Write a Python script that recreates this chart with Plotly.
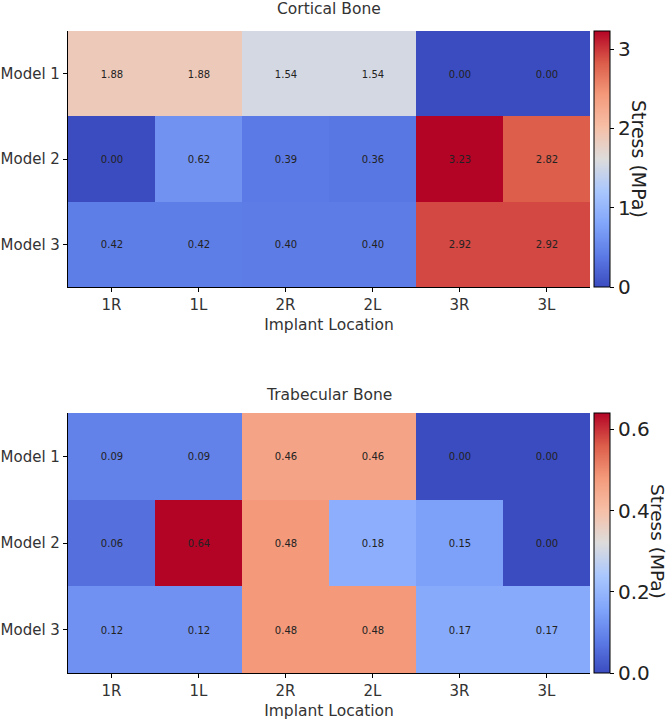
import plotly.graph_objects as go

locations = ["1R", "1L", "2R", "2L", "3R", "3L"]
models = ["Model 1", "Model 2", "Model 3"]
cortical = [
    [1.88, 1.88, 1.54, 1.54, 0.00, 0.00],
    [0.00, 0.62, 0.39, 0.36, 3.23, 2.82],
    [0.42, 0.42, 0.40, 0.40, 2.92, 2.92],
]
trabecular = [
    [0.09, 0.09, 0.46, 0.46, 0.00, 0.00],
    [0.06, 0.64, 0.48, 0.18, 0.15, 0.00],
    [0.12, 0.12, 0.48, 0.48, 0.17, 0.17],
]

coolwarm = [
    [0.0, "#3b4cc0"], [0.125, "#5d7ce6"], [0.25, "#82a6fb"], [0.375, "#aac7fd"],
    [0.5, "#dddcdc"], [0.625, "#f6bfa6"], [0.75, "#f49a7b"], [0.875, "#dc5d4a"],
    [1.0, "#b40426"],
]

FONT = "DejaVu Sans"
W, H = 669, 720
ml, mr, mt, mb = 68, 79, 31, 47
pw = W - ml - mr
ph = H - mt - mb
top_dom = [(H - mb - 287) / ph, 1.0]
bot_dom = [0.0, (H - mb - 413) / ph]

fig = go.Figure()

def px_x(p):
    return (p - ml) / pw

def px_y(p):
    return (H - mb - p) / ph

def cb(y0, y1, tickvals, ticktext):
    return dict(
        x=px_x(594), xanchor="left", y=y0, yanchor="bottom", len=y1 - y0, lenmode="fraction",
        xpad=0, ypad=0,
        thickness=16, outlinecolor="black", outlinewidth=1,
        ticks="outside", ticklen=4, tickcolor="black",
        tickvals=tickvals, ticktext=ticktext,
        tickfont=dict(family=FONT, size=20, color="#222"),
    )

fig.add_trace(go.Heatmap(
    z=cortical, x=locations, y=models, colorscale=coolwarm, zmin=0, zmax=max(max(r) for r in cortical),
    texttemplate="%{z:.2f}", textfont=dict(family=FONT, size=10, color="#222"),
    xaxis="x", yaxis="y",
    colorbar=cb(top_dom[0], top_dom[1], [0, 1, 2, 3], ["0", "1", "2", "3"]),
    hoverinfo="skip",
))
fig.add_trace(go.Heatmap(
    z=trabecular, x=locations, y=models, colorscale=coolwarm, zmin=0, zmax=max(max(r) for r in trabecular),
    texttemplate="%{z:.2f}", textfont=dict(family=FONT, size=10, color="#222"),
    xaxis="x2", yaxis="y2",
    colorbar=cb(bot_dom[0], bot_dom[1], [0, 0.2, 0.4, 0.6], ["0.0", "0.2", "0.4", "0.6"]),
    hoverinfo="skip",
))

axcommon = dict(showline=True, linecolor="black", linewidth=1.2, ticks="outside", ticklen=4,
                tickcolor="black", showgrid=False, zeroline=False,
                tickfont=dict(family=FONT, size=15, color="#333"))
xtitle = dict(text="Implant Location", font=dict(family=FONT, size=15.5, color="#333"), standoff=6)

fig.update_layout(
    width=W, height=H, margin=dict(l=ml, r=mr, t=mt, b=mb, autoexpand=False),
    paper_bgcolor="white", plot_bgcolor="white",
    font=dict(family=FONT, color="#333"),
    xaxis=dict(domain=[0, 1], anchor="y", title=xtitle, **axcommon),
    yaxis=dict(domain=top_dom, anchor="x", autorange="reversed", **axcommon),
    xaxis2=dict(domain=[0, 1], anchor="y2", title=xtitle, **axcommon),
    yaxis2=dict(domain=bot_dom, anchor="x2", autorange="reversed", **axcommon),
    annotations=[
        dict(text="Cortical Bone", x=0.5, xref="paper", y=px_y(9), yref="paper",
             showarrow=False, font=dict(family=FONT, size=15.5, color="#333"), yanchor="middle"),
        dict(text="Trabecular Bone", x=0.5, xref="paper", y=px_y(395), yref="paper",
             showarrow=False, font=dict(family=FONT, size=15.5, color="#333"), yanchor="middle"),
        dict(text="Stress (MPa)", x=px_x(639), xref="paper", y=px_y(159), yref="paper",
             showarrow=False, textangle=90, xanchor="center", yanchor="middle",
             font=dict(family=FONT, size=19, color="#222")),
        dict(text="Stress (MPa)", x=px_x(658), xref="paper", y=px_y(541), yref="paper",
             showarrow=False, textangle=90, xanchor="center", yanchor="middle",
             font=dict(family=FONT, size=18.5, color="#222")),
    ],
)

fig.write_html("out.html")
